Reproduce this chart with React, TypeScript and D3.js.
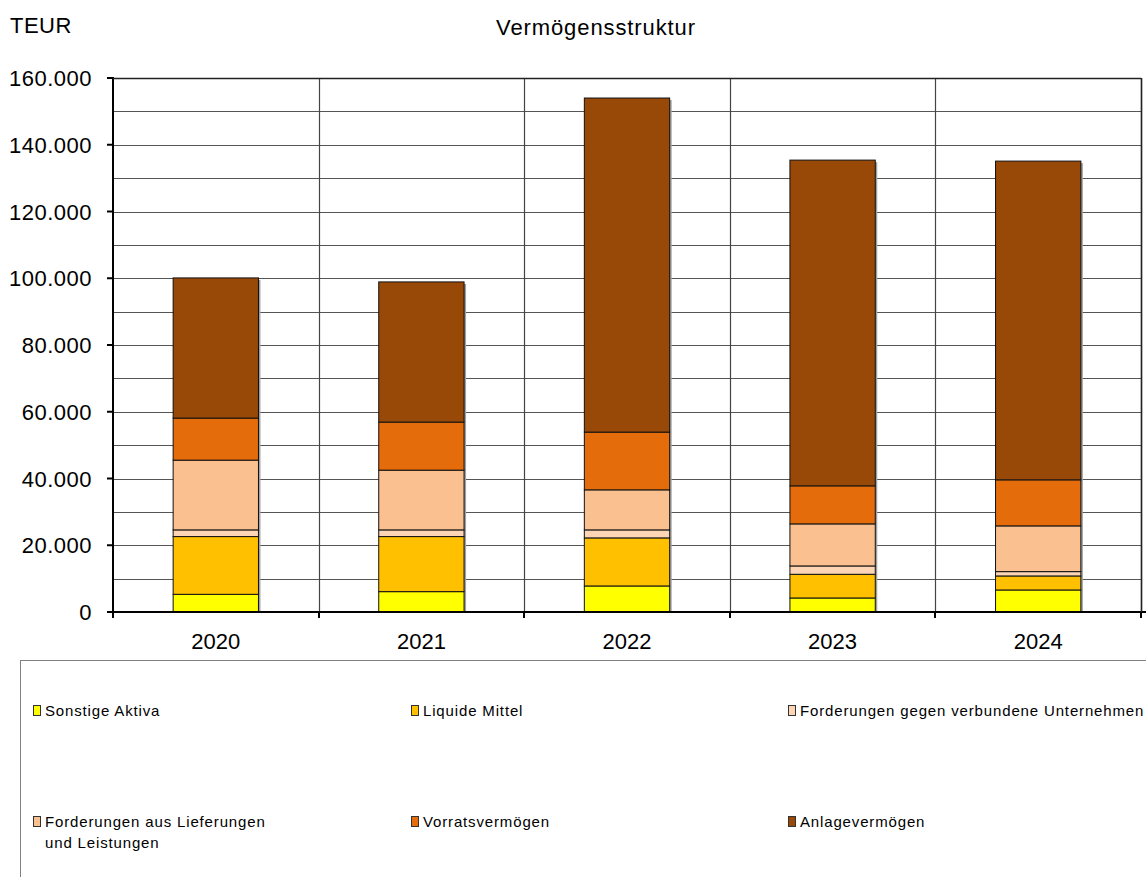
import React, { useEffect, useRef } from "react";
import * as d3 from "d3";

const years = ["2020", "2021", "2022", "2023", "2024"];
const seriesNames = [
  "Sonstige Aktiva",
  "Liquide Mittel",
  "Forderungen gegen verbundene Unternehmen",
  "Forderungen aus Lieferungen|und Leistungen",
  "Vorratsvermögen",
  "Anlagevermögen",
];
const seriesColors = ["#FFFF00", "#FFC000", "#FDD5B4", "#FAC090", "#E46C0A", "#984807"];

// values in TEUR
const sonstigeAktiva = [5300, 6100, 7800, 4200, 6600];
const liquideMittel = [17300, 16500, 14400, 7100, 4200];
const fordVerbunden = [2000, 2000, 2400, 2500, 1300];
const fordLuL = [20900, 17900, 12000, 12600, 13700];
const vorrat = [12600, 14400, 17300, 11400, 13800];
const anlage = [42000, 42000, 100100, 97600, 95500];

const yTicks = [0, 20000, 40000, 60000, 80000, 100000, 120000, 140000, 160000];
const gridValues = d3.range(10000, 160001, 10000);

const App = () => {
  const ref = useRef<SVGSVGElement>(null);

  useEffect(() => {
    const svg = d3.select(ref.current);
    svg.selectAll("*").remove();

    const width = 1146;
    const height = 877;
    const left = 113;
    const right = 1141;
    const top = 78;
    const bottom = 612;
    const font = "'Liberation Sans', Arial, sans-serif";

    const locale = d3.formatLocale({ decimal: ",", thousands: ".", grouping: [3], currency: ["", "€"] });
    const fmt = locale.format(",");

    const x = d3.scaleBand().domain(years).range([left, right]).padding(0);
    const y = d3.scaleLinear().domain([0, 160000]).range([bottom, top]);
    const barW = x.bandwidth() * 0.415;

    svg.attr("width", width).attr("height", height);
    svg.append("rect").attr("width", width).attr("height", height).attr("fill", "#fff");

    // title + unit
    svg.append("text").attr("x", 596).attr("y", 35).attr("text-anchor", "middle")
      .style("font-family", font).style("font-size", "22px").style("letter-spacing", "0.9px")
      .text("Vermögensstruktur");
    svg.append("text").attr("x", 10).attr("y", 33)
      .style("font-family", font).style("font-size", "22px").style("letter-spacing", "0.5px")
      .text("TEUR");

    // horizontal grid
    svg.append("g").selectAll("line").data(gridValues).enter().append("line")
      .attr("x1", left).attr("x2", right)
      .attr("y1", d => Math.round(y(d)) + 0.5).attr("y2", d => Math.round(y(d)) + 0.5)
      .attr("stroke", "#555").attr("stroke-width", 1.2);

    // vertical grid at category boundaries
    const bounds = years.map(d => x(d)! + x.bandwidth());
    svg.append("g").selectAll("line").data(bounds).enter().append("line")
      .attr("x1", d => Math.round(d) + 0.5).attr("x2", d => Math.round(d) + 0.5)
      .attr("y1", top).attr("y2", bottom)
      .attr("stroke", "#444").attr("stroke-width", 1.2);

    // stacked bars
    const table = years.map((yr, i) => ({
      year: yr,
      s0: sonstigeAktiva[i],
      s1: liquideMittel[i],
      s2: fordVerbunden[i],
      s3: fordLuL[i],
      s4: vorrat[i],
      s5: anlage[i],
    }));
    const keys = ["s0", "s1", "s2", "s3", "s4", "s5"];
    const stacked = d3.stack<any>().keys(keys)(table);

    // shadow
    svg.append("g").selectAll("rect").data(table).enter().append("rect")
      .attr("x", d => x(d.year)! + (x.bandwidth() - barW) / 2 + 2)
      .attr("y", d => y(d3.sum(keys, k => d[k])) + 2)
      .attr("width", barW)
      .attr("height", d => bottom - y(d3.sum(keys, k => d[k])) - 2)
      .attr("fill", "#a0a0a0");

    stacked.forEach((layer, li) => {
      svg.append("g").selectAll("rect").data(layer).enter().append("rect")
        .attr("x", d => x(d.data.year)! + (x.bandwidth() - barW) / 2)
        .attr("y", d => y(d[1]))
        .attr("width", barW)
        .attr("height", d => y(d[0]) - y(d[1]))
        .attr("fill", seriesColors[li])
        .attr("stroke", "#111").attr("stroke-width", 1);
    });

    // axes lines
    svg.append("line").attr("x1", left).attr("x2", left).attr("y1", top - 1).attr("y2", bottom + 6)
      .attr("stroke", "#000").attr("stroke-width", 2);
    svg.append("line").attr("x1", left - 6).attr("x2", width).attr("y1", bottom).attr("y2", bottom)
      .attr("stroke", "#000").attr("stroke-width", 2);
    svg.append("line").attr("x1", right + 0.5).attr("x2", right + 0.5).attr("y1", top).attr("y2", bottom)
      .attr("stroke", "#222").attr("stroke-width", 1.5);
    svg.append("line").attr("x1", left).attr("x2", right).attr("y1", top + 0.5).attr("y2", top + 0.5)
      .attr("stroke", "#222").attr("stroke-width", 1.5);

    // y ticks + labels
    const yAxis = svg.append("g");
    yAxis.selectAll("line").data(yTicks).enter().append("line")
      .attr("x1", left - 6).attr("x2", left)
      .attr("y1", d => y(d)).attr("y2", d => y(d))
      .attr("stroke", "#000").attr("stroke-width", 2);
    yAxis.selectAll("text").data(yTicks).enter().append("text")
      .attr("x", 92).attr("y", d => y(d) + 8)
      .attr("text-anchor", "end")
      .style("font-family", font).style("font-size", "22px").style("letter-spacing", "0.5px")
      .text(d => fmt(d));

    // x ticks + labels
    const xAxis = svg.append("g");
    xAxis.selectAll("line").data([left, ...bounds]).enter().append("line")
      .attr("x1", d => Math.round(d)).attr("x2", d => Math.round(d))
      .attr("y1", bottom).attr("y2", bottom + 6)
      .attr("stroke", "#000").attr("stroke-width", 2);
    xAxis.selectAll("text").data(years).enter().append("text")
      .attr("x", d => x(d)! + x.bandwidth() / 2)
      .attr("y", 649)
      .attr("text-anchor", "middle")
      .style("font-family", font).style("font-size", "22px")
      .text(d => d);

    // legend box
    svg.append("rect").attr("x", 20.5).attr("y", 660.5).attr("width", 1140).attr("height", 300)
      .attr("fill", "none").attr("stroke", "#808080").attr("stroke-width", 1);

    const colX = [33, 411, 788];
    const rowY = [712, 823];
    const legend = svg.append("g").selectAll("g").data(seriesNames).enter().append("g")
      .attr("transform", (d, i) => `translate(${colX[i % 3]},${rowY[Math.floor(i / 3)]})`);
    legend.append("rect").attr("x", 0.5).attr("y", -6.5).attr("width", 7).attr("height", 10)
      .attr("fill", (d, i) => seriesColors[i]).attr("stroke", "#333").attr("stroke-width", 1);
    legend.each(function (d) {
      const lines = d.split("|");
      const t = d3.select(this).append("text")
        .style("font-family", font).style("font-size", "15px").style("letter-spacing", "0.85px");
      lines.forEach((ln, j) => {
        t.append("tspan").attr("x", 12).attr("y", 4 + j * 21).text(ln);
      });
    });
  }, []);

  return <svg ref={ref} style={{ position: "absolute", left: 0, top: 0 }} />;
};

export default App;
